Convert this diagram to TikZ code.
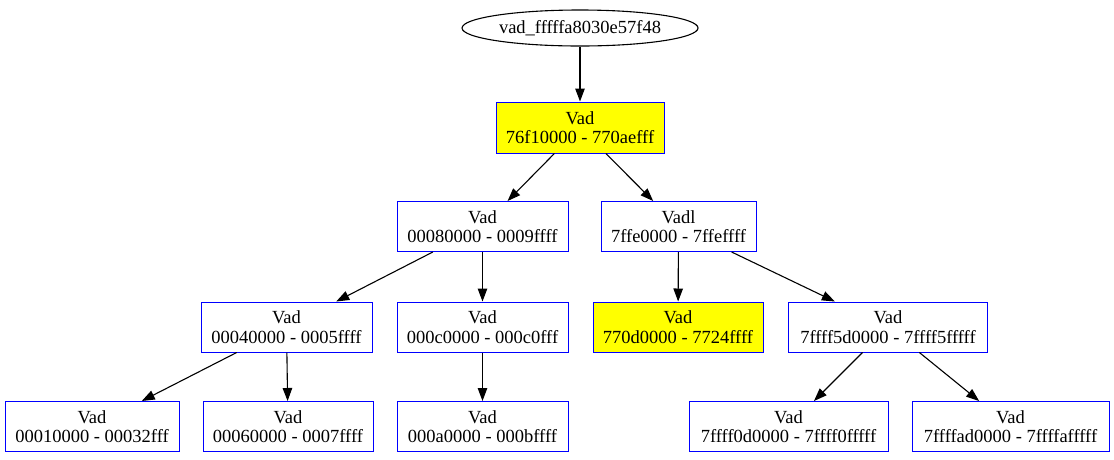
\documentclass[tikz,border=0pt]{standalone}
\usepackage{fontspec}
\setmainfont{Liberation Serif}
\usetikzlibrary{arrows.meta,shapes.geometric}
\definecolor{gvyellow}{RGB}{255,255,0}
\definecolor{gvblue}{RGB}{0,0,255}
\tikzset{
  vad/.style={draw=gvblue, line width=1pt, rectangle, inner sep=0pt, align=center,
    minimum height=50pt, font=\fontsize{18.5}{19.5}\selectfont, fill=white},
  hl/.style={fill=gvyellow},
  edge/.style={draw=black, line width=1.1pt, -{Triangle[length=13pt,width=9.5pt]}}
}
\begin{document}
\begin{tikzpicture}[x=1pt,y=-1pt]
\useasboundingbox (0,0) rectangle (1114,459);
\node[draw, ellipse, line width=1.1pt, minimum width=236pt, minimum height=36pt, inner sep=0pt,
  font=\fontsize{18.5}{19.5}\selectfont] (top) at (580,28) {vad\_fffffa8030e57f48};
\node[vad, hl, minimum width=168pt, minimum height=51pt] (r) at (580,127.5) {Vad\\76f10000 - 770aefff};
\node[vad, minimum width=171pt] (a) at (482.5,226.5) {Vad\\00080000 - 0009ffff};
\node[vad, minimum width=155pt] (b) at (678.5,226.5) {Vadl\\7ffe0000 - 7ffeffff};
\node[vad, minimum width=171pt] (c) at (286.5,327) {Vad\\00040000 - 0005ffff};
\node[vad, minimum width=171pt] (d) at (482.5,327) {Vad\\000c0000 - 000c0fff};
\node[vad, hl, minimum width=170pt] (e) at (678,327) {Vad\\770d0000 - 7724ffff};
\node[vad, minimum width=199pt] (f) at (888,327) {Vad\\7ffff5d0000 - 7ffff5fffff};
\node[vad, minimum width=174pt] (g) at (92,426.5) {Vad\\00010000 - 00032fff};
\node[vad, minimum width=170pt] (h) at (288,426.5) {Vad\\00060000 - 0007ffff};
\node[vad, minimum width=171pt] (i) at (482.5,426.5) {Vad\\000a0000 - 000bffff};
\node[vad, minimum width=199pt] (j) at (788.5,426.5) {Vad\\7ffff0d0000 - 7ffff0fffff};
\node[vad, minimum width=197pt] (k) at (1010.5,426.5) {Vad\\7ffffad0000 - 7ffffafffff};
\draw[edge] (top) -- (r);
\draw[edge] (r) -- (a);
\draw[edge] (r) -- (b);
\draw[edge] (a) -- (c);
\draw[edge] (a) -- (d);
\draw[edge] (b) -- (e);
\draw[edge] (b) -- (f);
\draw[edge] (c) -- (g);
\draw[edge] (c) -- (h);
\draw[edge] (d) -- (i);
\draw[edge] (f) -- (j);
\draw[edge] (f) -- (k);
\end{tikzpicture}
\end{document}
